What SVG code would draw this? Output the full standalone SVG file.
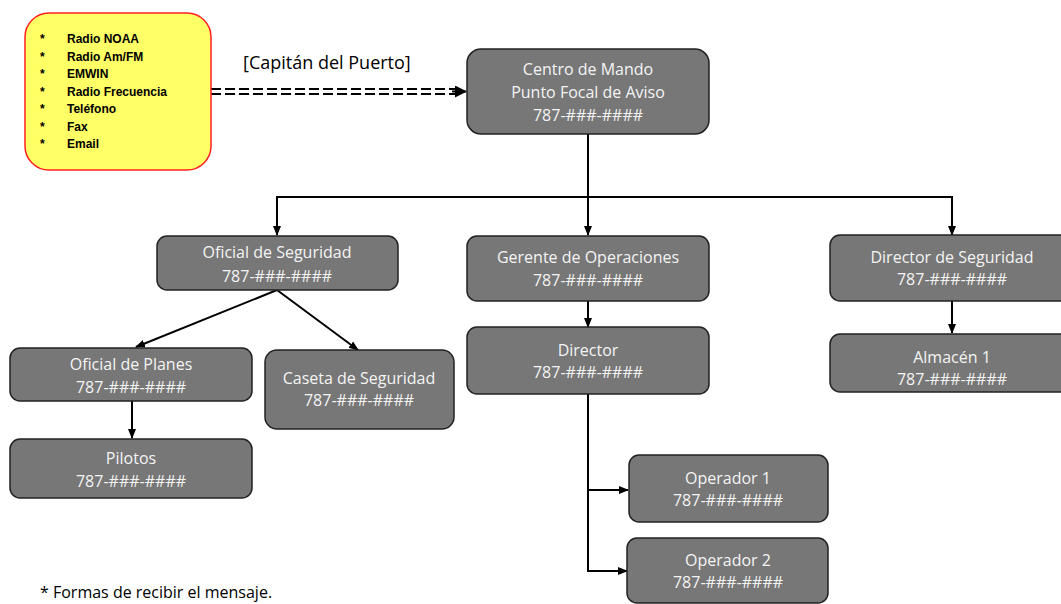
<svg xmlns="http://www.w3.org/2000/svg" width="1061" height="604" viewBox="0 0 1061 604">
<style>
.box{fill:#777777;stroke:#222222;stroke-width:1.5}
.t{font-family:"Open Sans","Liberation Sans",Arial,sans-serif;font-size:16px;fill:#f4f4f4;text-anchor:middle}
.c{fill:none;stroke:#000;stroke-width:2}
.li{font-family:"Liberation Sans",Arial,sans-serif;font-size:12px;font-weight:bold;fill:#000}
.lbl{font-family:"Open Sans","Liberation Sans",Arial,sans-serif;font-size:18px;fill:#000}
</style>
<defs>
<marker id="ah" viewBox="0 0 10 10" refX="9" refY="5" markerWidth="10" markerHeight="10" markerUnits="userSpaceOnUse" orient="auto">
<path d="M0,1 L10,5 L0,9 z" fill="#000"/>
</marker>
<marker id="ahb" viewBox="0 0 12 12" refX="11" refY="6" markerWidth="12" markerHeight="12" markerUnits="userSpaceOnUse" orient="auto">
<path d="M0,0 L12,6 L0,12 z" fill="#000"/>
</marker>
</defs>
<rect width="1061" height="604" fill="#fff"/>
<g id="connectors">
<line x1="211" y1="89" x2="455" y2="89" stroke="#000" stroke-width="2" stroke-dasharray="10,4"/>
<line x1="211" y1="94" x2="455" y2="94" stroke="#000" stroke-width="2" stroke-dasharray="10,4"/>
<path d="M452,91.5 L466,91.5" class="c" marker-end="url(#ahb)"/>
<path d="M588,134 V197" class="c"/>
<path d="M588,197 H277 V235" class="c" marker-end="url(#ah)"/>
<path d="M588,197 V235" class="c" marker-end="url(#ah)"/>
<path d="M588,197 H952 V235" class="c" marker-end="url(#ah)"/>
<path d="M277,290 L136,347" class="c" marker-end="url(#ah)"/>
<path d="M277,290 L358,350" class="c" marker-end="url(#ah)"/>
<path d="M132,401 V438" class="c" marker-end="url(#ah)"/>
<path d="M588,301 V327" class="c" marker-end="url(#ah)"/>
<path d="M952,301 V333" class="c" marker-end="url(#ah)"/>
<path d="M588,394 V571 H627" class="c" marker-end="url(#ah)"/>
<path d="M588,490 H628" class="c" marker-end="url(#ah)"/>
</g>
<g id="sources">
<rect x="25" y="13" width="186" height="157" rx="24" fill="#ffff66" stroke="#ff2020" stroke-width="1.5"/>
<text class="li" x="40" y="43">*</text><text class="li" x="67" y="43">Radio NOAA</text>
<text class="li" x="40" y="61">*</text><text class="li" x="67" y="61">Radio Am/FM</text>
<text class="li" x="40" y="78">*</text><text class="li" x="67" y="78">EMWIN</text>
<text class="li" x="40" y="96">*</text><text class="li" x="67" y="96">Radio Frecuencia</text>
<text class="li" x="40" y="113">*</text><text class="li" x="67" y="113">Teléfono</text>
<text class="li" x="40" y="131">*</text><text class="li" x="67" y="131">Fax</text>
<text class="li" x="40" y="148">*</text><text class="li" x="67" y="148">Email</text>
</g>
<text class="lbl" x="243" y="69">[Capitán del Puerto]</text>
<g id="centro">
<rect class="box" x="467" y="49" width="242" height="85" rx="14"/>
<text class="t" x="588" y="75">Centro de Mando</text>
<text class="t" x="588" y="98">Punto Focal de Aviso</text>
<text class="t" x="588" y="121">787-###-####</text>
</g>
<g id="oficial-seguridad">
<rect class="box" x="157" y="236" width="241" height="54" rx="10"/>
<text class="t" x="277" y="258">Oficial de Seguridad</text>
<text class="t" x="277" y="282">787-###-####</text>
</g>
<g id="gerente">
<rect class="box" x="467" y="236" width="242" height="65" rx="10"/>
<text class="t" x="588" y="263">Gerente de Operaciones</text>
<text class="t" x="588" y="286">787-###-####</text>
</g>
<g id="director-seguridad">
<rect class="box" x="830" y="235" width="244" height="66" rx="10"/>
<text class="t" x="952" y="263">Director de Seguridad</text>
<text class="t" x="952" y="285">787-###-####</text>
</g>
<g id="oficial-planes">
<rect class="box" x="10" y="348" width="242" height="53" rx="10"/>
<text class="t" x="131" y="370">Oficial de Planes</text>
<text class="t" x="131" y="393">787-###-####</text>
</g>
<g id="caseta">
<rect class="box" x="265" y="350" width="189" height="79" rx="12"/>
<text class="t" x="359" y="384">Caseta de Seguridad</text>
<text class="t" x="359" y="406">787-###-####</text>
</g>
<g id="pilotos">
<rect class="box" x="10" y="439" width="242" height="59" rx="10"/>
<text class="t" x="131" y="464">Pilotos</text>
<text class="t" x="131" y="487">787-###-####</text>
</g>
<g id="director">
<rect class="box" x="467" y="327" width="242" height="67" rx="10"/>
<text class="t" x="588" y="356">Director</text>
<text class="t" x="588" y="378">787-###-####</text>
</g>
<g id="almacen">
<rect class="box" x="830" y="334" width="244" height="58" rx="10"/>
<text class="t" x="952" y="363">Almacén 1</text>
<text class="t" x="952" y="385">787-###-####</text>
</g>
<g id="operador1">
<rect class="box" x="629" y="455" width="199" height="67" rx="10"/>
<text class="t" x="728" y="484">Operador 1</text>
<text class="t" x="728" y="506">787-###-####</text>
</g>
<g id="operador2">
<rect class="box" x="627" y="538" width="201" height="65" rx="10"/>
<text class="t" x="728" y="566">Operador 2</text>
<text class="t" x="728" y="588">787-###-####</text>
</g>
<text x="40" y="598" font-family="Open Sans, Liberation Sans, Arial, sans-serif" font-size="16" fill="#000">* Formas de recibir el mensaje.</text>
</svg>
